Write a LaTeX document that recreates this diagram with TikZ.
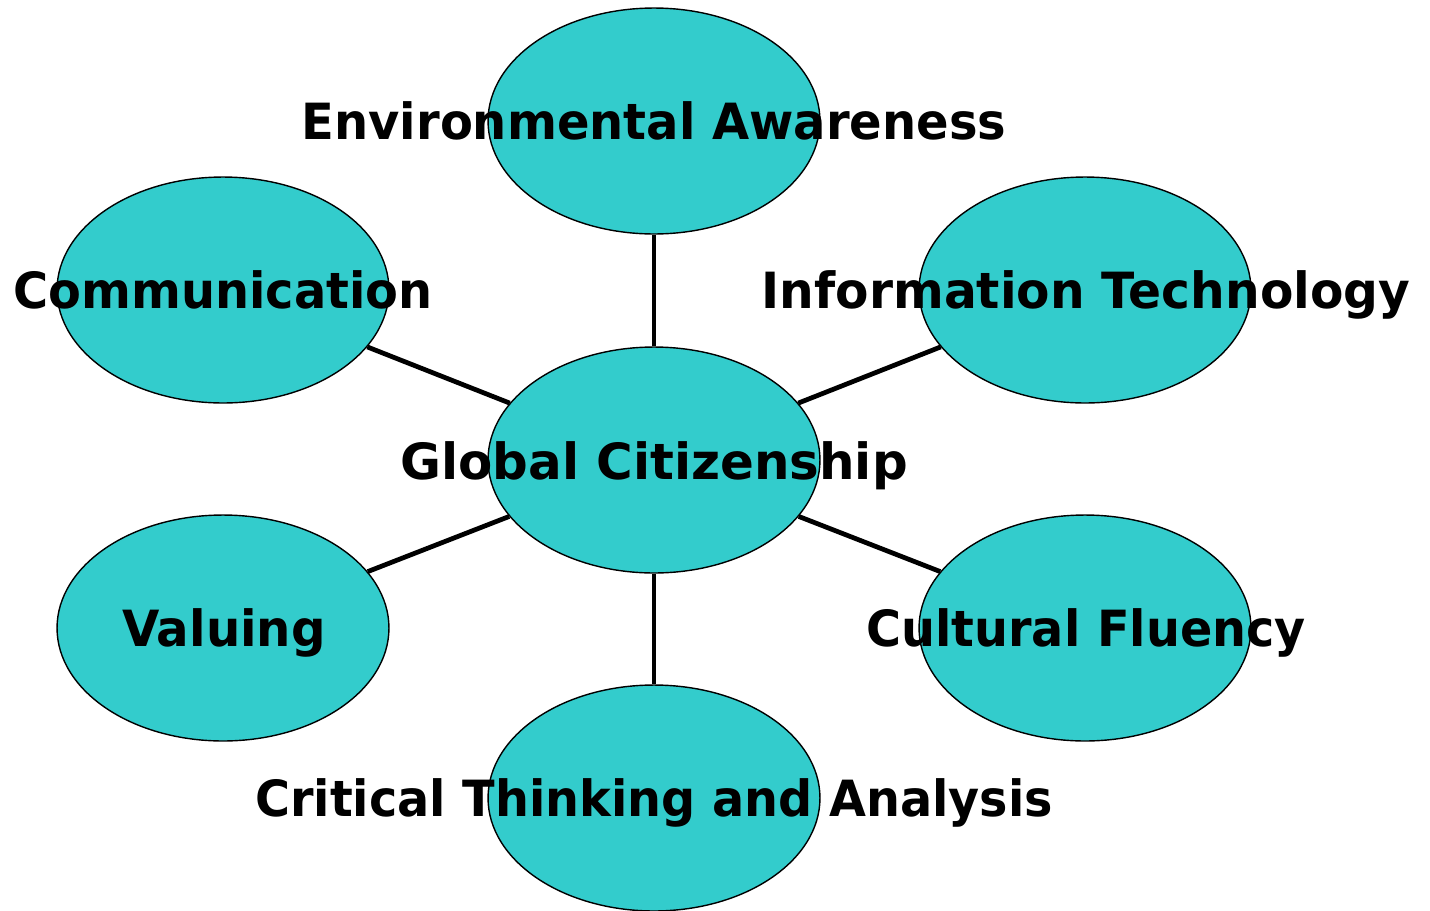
\documentclass[tikz,border=0pt]{standalone}
\usepackage{fontspec}
\setmainfont{DejaVu Sans}
\usetikzlibrary{shapes.geometric,backgrounds}
\definecolor{teal}{HTML}{33CCCC}
\tikzset{
  bubble/.style={ellipse, draw=black, line width=0.8pt, fill=teal, minimum width=6.64cm, minimum height=4.52cm, inner sep=0pt},
  lbl/.style={font=\bfseries\fontsize{28.4pt}{30pt}\selectfont, text=black, inner sep=0pt, anchor=base},
  link/.style={line width=2.7pt, black}
}
\begin{document}
\begin{tikzpicture}[x=0.02cm, y=-0.02cm]
\useasboundingbox (0,0) rectangle (1430,910);
\node[bubble] (c) at (654,460) {};
\node[bubble] (t) at (654,121) {};
\node[bubble] (ul) at (223,290) {};
\node[bubble] (ur) at (1085,290) {};
\node[bubble] (ll) at (223,628) {};
\node[bubble] (lr) at (1085,628) {};
\node[bubble] (b) at (654,798) {};
\begin{scope}[on background layer]
\draw[link] (c) -- (t);
\draw[link] (c) -- (ul);
\draw[link] (c) -- (ur);
\draw[link] (c) -- (ll);
\draw[link] (c) -- (lr);
\draw[link] (c) -- (b);
\end{scope}
\node[lbl] (tc) at (654,479) {Global Citizenship};
\node[lbl, xscale=0.962] (tt) at (654,139) {Environmental Awareness};
\node[lbl, xscale=0.959] (tul) at (223,308) {Communication};
\node[lbl, xscale=0.976] (tur) at (1086,308) {Information Technology};
\node[lbl, xscale=0.967] (tll) at (224,646) {Valuing};
\node[lbl, xscale=0.956] (tlr) at (1086,646) {Cultural Fluency};
\node[lbl, xscale=0.956] (tb) at (654,816) {Critical Thinking and Analysis};
\end{tikzpicture}
\end{document}
